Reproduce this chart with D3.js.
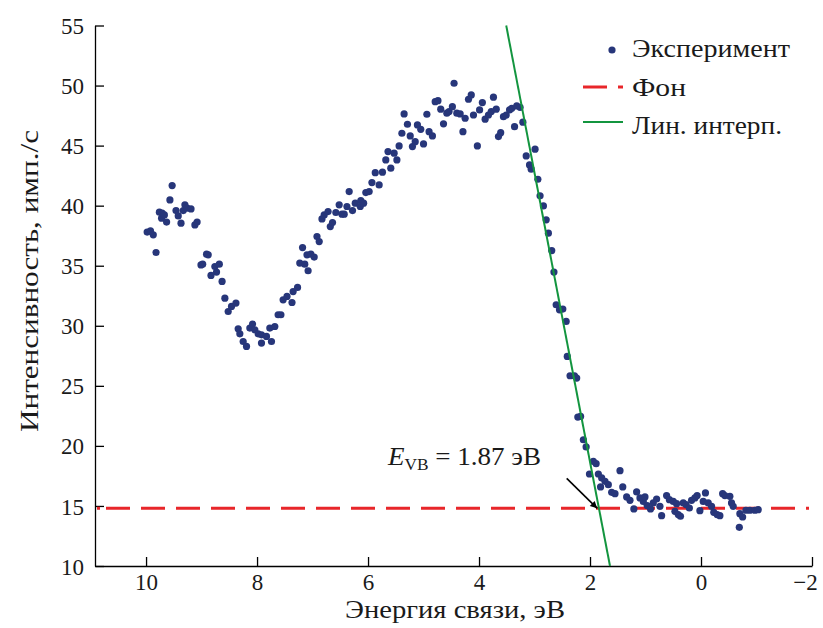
<!DOCTYPE html>
<html>
<head>
<meta charset="utf-8">
<script src="https://cdn.jsdelivr.net/npm/d3@7"></script>
<style>
    body { margin: 0; background: #fff; }
    text { font-family: "Liberation Serif", "Times New Roman", serif; }
</style>
</head>
<body>
<div id="chart"></div>
<script>
// experimental points: binding energy (eV) and intensity (counts/s)
const energy = [
    9.98, 9.92, 9.87, 9.82, 9.76, 9.72, 9.71, 9.67, 9.63, 9.57, 9.53, 9.46, 9.42, 9.37, 9.33, 9.30, 9.26, 9.19, 9.12, 9.08,
    9.01, 8.98, 8.91, 8.88, 8.83, 8.76, 8.73, 8.68, 8.63, 8.58, 8.52, 8.46, 8.38, 8.34, 8.31, 8.25, 8.19, 8.13, 8.08, 8.04,
    7.98, 7.92, 7.92, 7.83, 7.77, 7.74, 7.68, 7.62, 7.57, 7.53, 7.46, 7.37, 7.35, 7.27, 7.23, 7.18, 7.14, 7.10, 7.08, 7.03,
    6.97, 6.92, 6.88, 6.83, 6.79, 6.72, 6.68, 6.64, 6.58, 6.52, 6.47, 6.43, 6.38, 6.34, 6.28, 6.23, 6.14, 6.13, 6.08, 6.04,
    5.98, 5.93, 5.87, 5.80, 5.74, 5.68, 5.64, 5.59, 5.53, 5.48, 5.44, 5.39, 5.35, 5.29, 5.24, 5.20, 5.15, 5.11, 5.05, 5.00,
    4.94, 4.90, 4.84, 4.79, 4.74, 4.69, 4.64, 4.58, 4.54, 4.48, 4.45, 4.40, 4.34, 4.29, 4.25, 4.19, 4.14, 4.10, 4.03, 3.99,
    3.94, 3.89, 3.83, 3.78, 3.74, 3.69, 3.65, 3.61, 3.56, 3.51, 3.45, 3.41, 3.36, 3.32, 3.26, 3.21, 3.15, 3.09, 3.06, 2.99,
    2.94, 2.90, 2.84, 2.79, 2.75, 2.69, 2.65, 2.61, 2.55, 2.49, 2.43, 2.41, 2.36, 2.28, 2.24, 2.22, 2.17, 2.12, 2.07, 2.01,
    1.94, 1.89, 1.85, 1.81, 1.79, 1.73, 1.67, 1.61, 1.55, 1.46, 1.41, 1.34, 1.28, 1.21, 1.16, 1.10, 1.04, 1.01, 0.97, 0.91,
    0.86, 0.80, 0.74, 0.71, 0.62, 0.57, 0.50, 0.47, 0.44, 0.41, 0.37, 0.32, 0.27, 0.21, 0.17, 0.11, 0.07, 0.02, -0.04, -0.08,
    -0.13, -0.19, -0.23, -0.29, -0.34, -0.39, -0.43, -0.52, -0.55, -0.58, -0.69, -0.70, -0.75, -0.81, -0.88, -0.97, -1.03
];
const intensity = [
    37.80, 37.90, 37.57, 36.10, 39.46, 38.96, 39.38, 39.23, 38.63, 40.48, 41.67, 39.59, 39.15, 38.54, 39.59, 40.07, 39.79, 39.73, 38.40, 38.63,
    35.07, 35.13, 35.96, 35.91, 34.19, 34.93, 34.47, 35.13, 33.69, 32.30, 31.19, 31.61, 31.89, 29.75, 29.33, 28.69, 28.28, 29.81, 30.14, 29.67,
    29.33, 29.25, 28.56, 29.11, 29.81, 28.69, 29.94, 30.92, 30.92, 32.16, 32.44, 31.94, 32.85, 33.19, 35.22, 36.51, 35.13, 35.91, 34.58, 35.96,
    35.72, 37.43, 37.01, 38.90, 39.23, 39.51, 38.26, 38.59, 39.43, 40.07, 39.29, 39.29, 39.93, 41.17, 39.59, 40.21, 39.93, 40.42, 40.21, 41.09,
    41.17, 41.92, 42.75, 41.73, 42.79, 43.81, 44.50, 43.12, 44.37, 43.81, 44.97, 46.03, 47.64, 46.78, 45.81, 44.92, 45.33, 46.72, 46.36, 45.14,
    47.61, 46.16, 45.81, 48.66, 48.74, 48.03, 46.81, 47.70, 47.83, 48.24, 50.19, 47.70, 47.64, 46.16, 47.28, 48.86, 49.22, 47.55, 44.97, 47.97,
    48.58, 47.20, 47.55, 47.83, 49.03, 48.03, 45.75, 46.08, 47.41, 47.55, 47.97, 48.11, 46.58, 48.30, 48.19, 46.95, 44.14, 43.39, 43.04, 44.70,
    42.20, 40.82, 39.98, 38.82, 37.71, 36.26, 34.47, 31.75, 31.33, 31.39, 30.36, 27.45, 25.84, 25.84, 25.65, 22.40, 22.45, 20.51, 19.91, 17.66,
    18.71, 18.52, 17.66, 16.58, 17.33, 17.05, 16.77, 16.13, 16.02, 17.94, 16.58, 15.75, 15.47, 14.75, 16.17, 15.67, 15.38, 15.75, 15.03, 14.75,
    15.25, 15.58, 14.97, 14.19, 15.86, 15.52, 15.38, 14.55, 15.19, 14.28, 14.14, 15.25, 15.11, 14.83, 15.47, 15.67, 15.86, 14.61, 15.38, 16.08,
    15.25, 14.97, 14.47, 14.28, 14.19, 16.02, 15.86, 15.80, 15.25, 14.97, 13.22, 14.36, 14.08, 14.64, 14.64, 14.64, 14.69
];

// background level and linear fit of the valence band edge
const background = 14.8;
const fitEnergy = [3.51, 1.64];
const fitIntensity = [55, 10];
const evbValue = 1.87;
const arrowFrom = [2.42, 17.3];

const xTicks = [10, 8, 6, 4, 2, 0, -2];
const yTicks = [10, 15, 20, 25, 30, 35, 40, 45, 50, 55];

const legendLabels = ["Эксперимент", "Фон", "Лин. интерп."];
const legendWidths = [158, 54, 150];

const width = 823;
const height = 628;
const margin = { top: 25.5, right: 11, bottom: 62, left: 95 };

const svg = d3.select("#chart")
    .append("svg")
    .attr("width", width)
    .attr("height", height);

const defs = svg.append("defs");
defs.append("marker")
    .attr("id", "arrowhead")
    .attr("viewBox", "0 0 10 10")
    .attr("refX", 10)
    .attr("refY", 5)
    .attr("markerWidth", 10)
    .attr("markerHeight", 7)
    .attr("markerUnits", "userSpaceOnUse")
    .attr("orient", "auto")
    .append("path")
    .attr("d", "M0,0 L10,5 L0,10 Z")
    .attr("fill", "#000");

const x = d3.scaleLinear()
    .domain([10.92, -2])
    .range([margin.left, width - margin.right]);

const y = d3.scaleLinear()
    .domain([10, 55])
    .range([height - margin.bottom, margin.top]);

// axes
const xAxis = svg.append("g")
    .attr("transform", `translate(0, ${height - margin.bottom})`)
    .call(d3.axisBottom(x).tickValues(xTicks).tickSize(-9).tickPadding(8).tickSizeOuter(0));

const yAxis = svg.append("g")
    .attr("transform", `translate(${margin.left}, 0)`)
    .call(d3.axisLeft(y).tickValues(yTicks).tickSize(-9).tickPadding(11).tickSizeOuter(0));

[xAxis, yAxis].forEach(ax => {
    ax.select(".domain").attr("stroke", "#000").attr("stroke-width", 1.3);
    ax.selectAll(".tick line").attr("stroke", "#000").attr("stroke-width", 1.3);
    ax.selectAll(".tick text")
        .attr("fill", "#1a1a1a")
        .style("font-size", "23px");
});
yAxis.selectAll(".tick text").attr("dy", "0.35em");
// keep the last label (−2) inside the picture
xAxis.selectAll(".tick text")
    .filter(d => d === -2)
    .attr("x", -7);

svg.append("text")
    .attr("x", 345)
    .attr("y", 618)
    .attr("textLength", 220)
    .attr("lengthAdjust", "spacingAndGlyphs")
    .style("font-size", "25px")
    .attr("fill", "#1a1a1a")
    .text("Энергия связи, эВ");

svg.append("text")
    .attr("transform", "translate(38, 432) rotate(-90)")
    .attr("textLength", 302)
    .attr("lengthAdjust", "spacingAndGlyphs")
    .style("font-size", "25px")
    .attr("fill", "#1a1a1a")
    .text("Интенсивность, имп./с");

// background line
svg.append("line")
    .attr("x1", 97)
    .attr("x2", 809)
    .attr("y1", y(background))
    .attr("y2", y(background))
    .attr("stroke", "#e8262a")
    .attr("stroke-width", 3)
    .attr("stroke-dasharray", "3,6," + d3.range(20).map(() => "24,11").join(",") + ",3,40");

// points
const points = energy.map((e, i) => ({ e: e, v: intensity[i] }));

svg.append("g")
    .selectAll("circle")
    .data(points)
    .enter()
    .append("circle")
    .attr("cx", d => x(d.e))
    .attr("cy", d => y(d.v))
    .attr("r", 3.6)
    .attr("fill", "#27367a");

// linear fit
svg.append("line")
    .attr("x1", x(fitEnergy[0]))
    .attr("y1", y(fitIntensity[0]))
    .attr("x2", x(fitEnergy[1]))
    .attr("y2", y(fitIntensity[1]))
    .attr("stroke", "#13953f")
    .attr("stroke-width", 2);

// annotation arrow and label
svg.append("line")
    .attr("x1", x(arrowFrom[0]))
    .attr("y1", y(arrowFrom[1]))
    .attr("x2", x(evbValue))
    .attr("y2", y(background))
    .attr("stroke", "#000")
    .attr("stroke-width", 1.6)
    .attr("marker-end", "url(#arrowhead)");

const label = svg.append("text")
    .attr("x", 388)
    .attr("y", 465)
    .attr("textLength", 153)
    .attr("lengthAdjust", "spacingAndGlyphs")
    .style("font-size", "25px")
    .attr("fill", "#1a1a1a");
label.append("tspan").style("font-style", "italic").text("E");
label.append("tspan").attr("dy", 5).style("font-size", "16px").text("VB");
label.append("tspan").attr("dy", -5).text(` = ${evbValue} эВ`);

// legend
const legend = svg.append("g");
legend.append("circle")
    .attr("cx", 612)
    .attr("cy", 50)
    .attr("r", 3.6)
    .attr("fill", "#27367a");
legend.append("line")
    .attr("x1", 583).attr("x2", 607)
    .attr("y1", 87).attr("y2", 87)
    .attr("stroke", "#e8262a")
    .attr("stroke-width", 3);
legend.append("line")
    .attr("x1", 618).attr("x2", 623)
    .attr("y1", 87).attr("y2", 87)
    .attr("stroke", "#e8262a")
    .attr("stroke-width", 3);
legend.append("line")
    .attr("x1", 583).attr("x2", 623)
    .attr("y1", 122).attr("y2", 122)
    .attr("stroke", "#13953f")
    .attr("stroke-width", 2);

legend.selectAll(".legend-text")
    .data(legendLabels)
    .enter()
    .append("text")
    .attr("x", 632)
    .attr("y", (d, i) => 57 + i * 38.5)
    .attr("textLength", (d, i) => legendWidths[i])
    .attr("lengthAdjust", "spacingAndGlyphs")
    .style("font-size", "25px")
    .attr("fill", "#1a1a1a")
    .text(d => d);
</script>
</body>
</html>
